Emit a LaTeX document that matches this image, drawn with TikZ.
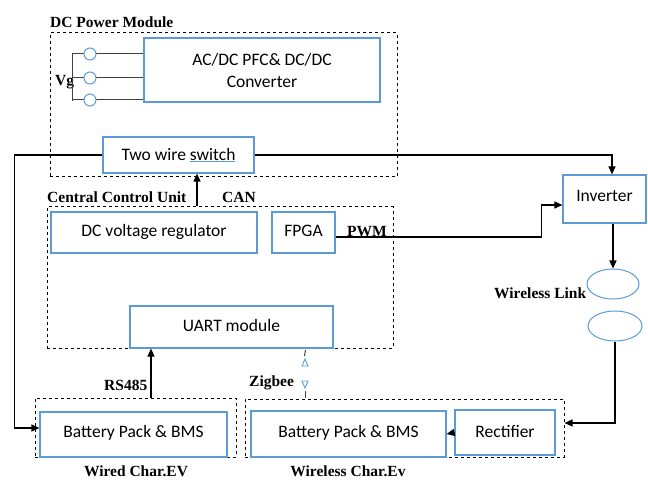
\documentclass[tikz,border=0pt]{standalone}
\usepackage{fontspec}
\setmainfont{Carlito}
\newfontfamily\ttlfont{Liberation Serif}
\usetikzlibrary{arrows.meta,positioning,shapes.geometric}
\definecolor{boxblue}{HTML}{5B9BD5}
\definecolor{wiregray}{HTML}{404040}
\tikzset{
  blk/.style={draw=boxblue, line width=1.2pt, rectangle, inner sep=0pt,
    font=\fontsize{17.5}{22}\selectfont},
  grp/.style={draw, dashed, line width=1pt, rectangle, inner sep=0pt},
  ttl/.style={inner sep=0pt, font=\ttlfont\bfseries\fontsize{15.5}{18}\selectfont},
  conn/.style={line width=1.2pt, -{Triangle[length=8pt,width=7pt]}},
  pin/.style={circle, draw=boxblue, line width=1pt, fill=white, minimum size=12pt, inner sep=0pt},
  link/.style={ellipse, draw=boxblue, line width=1pt, inner sep=0pt}
}
\begin{document}
\begin{tikzpicture}[x=1pt,y=-1pt]
\useasboundingbox (0,0) rectangle (648,481);
% groups
\node[grp, minimum width=347pt, minimum height=144pt] (dcpm) at (223.5,105) {};
\node[grp, minimum width=346pt, minimum height=141pt] (ccu) at (220,277.5) {};
\node[grp, minimum width=201pt, minimum height=59pt] (wired) at (135.5,427.5) {};
\node[grp, minimum width=319pt, minimum height=58pt] (wless) at (404.5,428) {};
% titles
\node[ttl, anchor=west] (dcpmttl) at (50,22) {DC Power Module};
\node[ttl, anchor=west] (ccuttl) at (47,197) {Central Control Unit};
\node[ttl, anchor=west] (canttl) at (222,197) {CAN};
\node[ttl, anchor=west] (pwmttl) at (347,232) {PWM};
\node[ttl, anchor=west] (wlttl) at (494,293) {Wireless Link};
\node[ttl, anchor=west] (rsttl) at (104,385) {RS485};
\node[ttl, anchor=west] (zbttl) at (249,383) {Zigbee};
\node[ttl] (wiredttl) at (136,471) {Wired Char.EV};
\node[ttl] (wlessttl) at (348,471) {Wireless Char.Ev};
\node[ttl, anchor=west] (vgttl) at (55,82) {Vg};
% blocks
\node[blk, minimum width=236pt, minimum height=64pt, align=center] (acdc) at (262,70) {AC/DC PFC\& DC/DC\\Converter};
\node[blk, minimum width=151pt, minimum height=36pt] (sw) at (178.5,155)
  {Two wire {\color{boxblue}$\underline{\hbox{\color{black}switch}}$}};
\node[blk, minimum width=206pt, minimum height=41pt] (dcv) at (154,232.5) {\raisebox{4pt}{DC voltage regulator}};
\node[blk, minimum width=63pt, minimum height=41pt] (fpga) at (303.5,232.5) {\raisebox{4pt}{FPGA}};
\node[blk, minimum width=203pt, minimum height=42pt] (uart) at (231.5,327) {\raisebox{4pt}{UART module}};
\node[blk, minimum width=83pt, minimum height=48pt] (inv) at (604.5,199) {\raisebox{6pt}{Inverter}};
\node[blk, minimum width=187pt, minimum height=45pt] (wbat) at (133.5,434.5) {\raisebox{6pt}{Battery Pack \& BMS}};
\node[blk, minimum width=195pt, minimum height=46pt] (wbat2) at (348.5,434) {\raisebox{5pt}{Battery Pack \& BMS}};
\node[blk, minimum width=100pt, minimum height=45pt] (rect) at (505,432.5) {\raisebox{3pt}{Rectifier}};
\node[link, minimum width=52pt, minimum height=30pt] (wl1) at (613,284) {};
\node[link, minimum width=54pt, minimum height=30pt] (wl2) at (615,326) {};
% grid input
\draw[wiregray, line width=1pt] (72,54) -- (72,101);
\foreach \yy in {54,78,100} {
  \draw[wiregray, line width=1pt] (72,\yy) -- (acdc.west |- 0,\yy);
  \node[pin] at (90,\yy) {};
}
% connectors
\draw[conn] (sw.west) -- ++(-88,0) |- ([yshift=6.5pt]wbat.west);
\draw[conn] (sw.east) -| ([xshift=7.5pt]inv.north);
\draw[conn] ([xshift=18.5pt]sw.south |- ccu.north) -- ([xshift=18.5pt]sw.south);
\draw[conn] ([yshift=-4.5pt]fpga.east) -- ++(206,0) |- ([yshift=-6pt]inv.west);
\draw[conn] (wl1.north |- inv.south) -- (wl1.north);
\draw[conn] (wl2.south) |- ([yshift=5pt]wless.east);
\draw[conn] ([xshift=-80.5pt]uart.south |- wired.north) -- ([xshift=-80.5pt]uart.south);
\draw[conn] (rect.west) -- (wbat2.east);
% zigbee
\draw[wiregray, line width=1pt] (305.5,350) -- (304.5,356);
\draw[boxblue, line width=0.9pt] (302,366) -- (308,366) -- (305,359) -- cycle;
\draw[boxblue, line width=0.9pt] (302,381) -- (308,381) -- (305,388) -- cycle;
\draw[wiregray, line width=1pt] (305,391) -- (305,398);
\end{tikzpicture}
\end{document}
